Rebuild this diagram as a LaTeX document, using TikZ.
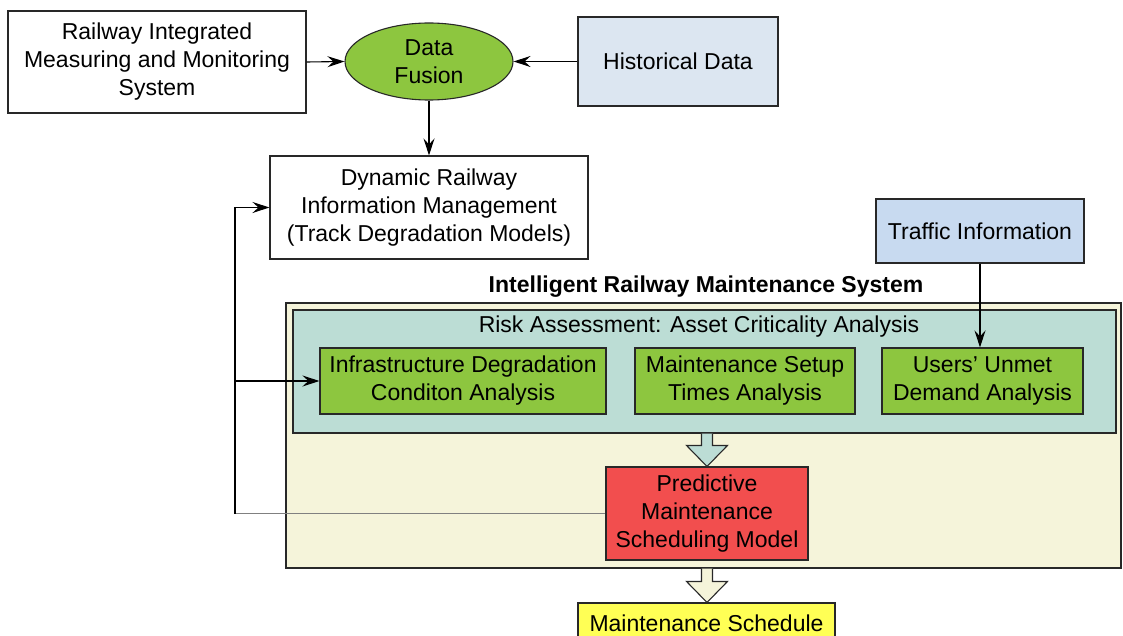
\documentclass[tikz,border=0pt]{standalone}
\usepackage{fontspec}
\setmainfont{Liberation Sans}
\usetikzlibrary{shapes.geometric,arrows.meta,calc}

\definecolor{fusegreen}{RGB}{141,198,63}
\definecolor{histblue}{RGB}{220,230,241}
\definecolor{trafblue}{RGB}{200,218,240}
\definecolor{riskteal}{RGB}{188,221,213}
\definecolor{sysbeige}{RGB}{245,244,218}
\definecolor{predred}{RGB}{242,78,78}
\definecolor{schedyellow}{RGB}{255,255,85}
\definecolor{edge}{RGB}{40,40,40}

\newcommand\txt{\fontsize{23}{28}\selectfont}

\tikzset{
  box/.style={draw=edge, line width=1.1pt, align=center, inner sep=0pt, font=\txt},
  arr/.style={draw=black, line width=1.1pt, -{Stealth[length=17pt,width=11pt,inset=6pt]}},
  blockarrow/.style={draw=edge, line width=1.1pt, line join=miter},
}

\begin{document}
\begin{tikzpicture}[x=1pt,y=-1pt]
  \useasboundingbox (0,0) rectangle (1123,636);
  \clip (0,0) rectangle (1123,636);

  % data sources and fusion
  \node[box, fill=white, minimum width=298, minimum height=102] (rims) at (157,62)
    {Railway Integrated\\Measuring and Monitoring\\System};
  \node[box, ellipse, fill=fusegreen, minimum width=168, minimum height=77] (fusion) at (429,61.5)
    {Data\\Fusion};
  \node[box, fill=histblue, minimum width=200, minimum height=89] (hist) at (678,61.5)
    {Historical Data};
  \node[box, fill=white, minimum width=318, minimum height=103] (dyn) at (429,207.5)
    {Dynamic Railway\\Information Management\\(Track Degradation Models)};
  \node[box, fill=trafblue, minimum width=208, minimum height=64] (traffic) at (980,231)
    {Traffic Information};

  % maintenance system frame
  \node[font=\txt\bfseries, inner sep=0pt] (title) at (706,287) {Intelligent Railway Maintenance System};
  \node[box, fill=sysbeige, minimum width=835, minimum height=265] (sys) at (703.5,435.5) {};
  \node[box, fill=riskteal, minimum width=823, minimum height=123] (risk) at (704.5,371.5) {};
  \node[font=\txt, inner sep=0pt] (risktitle) at (699,327) {Risk Assessment: Asset Criticality Analysis};

  \node[box, fill=fusegreen, minimum width=286, minimum height=66] (b1) at (463,381)
    {Infrastructure Degradation\\Conditon Analysis};
  \node[box, fill=fusegreen, minimum width=220, minimum height=66] (b2) at (745,381)
    {Maintenance Setup\\Times Analysis};
  \node[box, fill=fusegreen, minimum width=201, minimum height=66] (b3) at (982.5,381)
    {Users' Unmet\\Demand Analysis};

  \node[box, fill=predred, minimum width=202, minimum height=93] (pred) at (707,513.5)
    {Predictive\\Maintenance\\Scheduling Model};
  \node[box, fill=schedyellow, minimum width=257, minimum height=54] (sched) at (706.5,630) {};
  \node[font=\txt, inner sep=0pt] (schedtext) at (706.5,623) {Maintenance Schedule};

  % block arrows
  \coordinate (a1top) at (pred.north |- risk.south);
  \coordinate (a1tip) at (pred.north);
  \path[blockarrow, fill=riskteal]
    ($(a1top)+(-5.5,0)$) -- ($(a1tip)+(-5.5,-21)$) -- ($(a1tip)+(-20.5,-21)$) -- (a1tip)
    -- ($(a1tip)+(20.5,-21)$) -- ($(a1tip)+(5.5,-21)$) -- ($(a1top)+(5.5,0)$);
  \coordinate (a2top) at (pred.south |- sys.south);
  \coordinate (a2tip) at (sched.north -| pred.south);
  \path[blockarrow, fill=sysbeige]
    ($(a2top)+(-5.5,0)$) -- ($(a2tip)+(-5.5,-21)$) -- ($(a2tip)+(-20.5,-21)$) -- (a2tip)
    -- ($(a2tip)+(20.5,-21)$) -- ($(a2tip)+(5.5,-21)$) -- ($(a2top)+(5.5,0)$);

  % connectors
  \draw[arr] (rims.east) -- (fusion.west);
  \draw[arr] (hist.west) -- (fusion.east);
  \draw[arr] (fusion.south) -- (fusion.south |- dyn.north);
  \draw[arr] (traffic.south) -- (traffic.south |- b3.north);

  % feedback loop
  \coordinate (fbx) at (235,0);
  \draw[gray, line width=0.9pt] (pred.west) -- (pred.west -| fbx);
  \draw[arr] (pred.west -| fbx) |- (dyn.west);
  \draw[arr] (b1.west -| fbx) -- (b1.west);
\end{tikzpicture}
\end{document}
